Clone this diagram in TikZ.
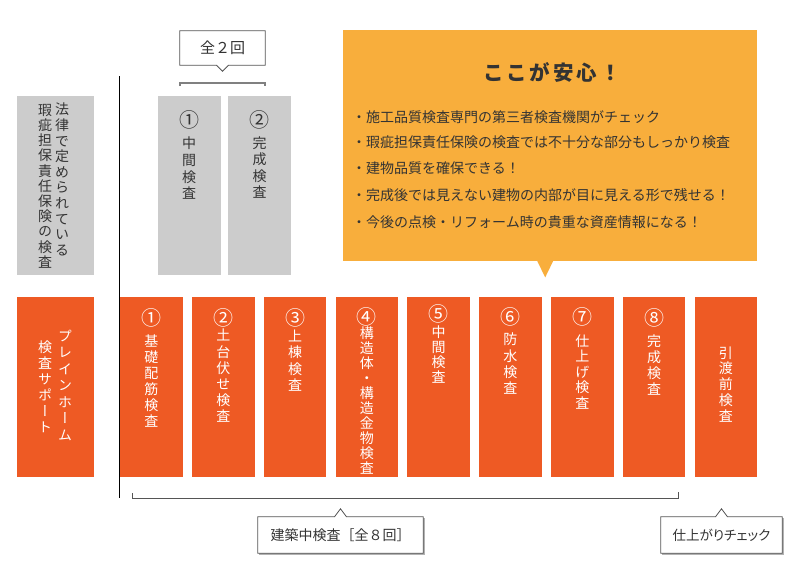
\documentclass[tikz,border=0pt]{standalone}
\usepackage{fontspec}
\setmainfont{Noto Sans CJK JP}
\newfontfamily\vfont[RawFeature=+vert]{Noto Sans CJK JP}
\newfontfamily\pfont[RawFeature=+palt]{Noto Sans CJK JP}
\usetikzlibrary{calc}
\definecolor{orng}{HTML}{EE5A24}
\definecolor{yorng}{HTML}{F8AE3C}
\definecolor{gbox}{HTML}{CCCCCC}
\definecolor{dtext}{HTML}{333333}
\definecolor{cline}{HTML}{555555}
\definecolor{bline}{HTML}{808080}
\newcommand\lsp{\hspace{3pt}}
\newcommand\cnum[1]{{\fontsize{20}{16}\selectfont #1}}
\begin{document}
\begin{tikzpicture}[x=1pt,y=-1pt,
  obox/.style={fill=orng, draw=none, minimum width=62.5pt, minimum height=180pt, inner sep=0pt, anchor=north west},
  gboxs/.style={fill=gbox, draw=none, minimum width=62.5pt, minimum height=179pt, inner sep=0pt, anchor=north west},
  vtxt/.style={inner sep=0pt, align=center, anchor=north, font=\vfont\fontsize{14}{#1}\selectfont},
  wtxt/.style={vtxt=#1, text=white},
  dtxt/.style={vtxt=#1, text=dtext},
  callbox/.style={draw=none, inner sep=0pt, text=dtext},
  bullet/.style={anchor=west, inner sep=0pt, text=dtext, font=\fontsize{14}{14}\selectfont},
  shadowc/.style={fill=black!30, draw=none},
  outline/.style={draw=cline, line width=0.8pt, fill=white}
]
\useasboundingbox (0,0) rectangle (800,584);
\fill[white] (0,0) rectangle (800,584);

% ---------- gray boxes ----------
\node[gboxs, minimum width=77pt] (gL) at (17,96) {};
\node[dtxt=15.6] (gLa) at (62,103) {法\\律\\で\\定\\め\\ら\\れ\\て\\い\\る};
\node[dtxt=15.2] (gLb) at (45,104) {瑕\\疵\\担\\保\\責\\任\\保\\険\\の\\検\\査};
\node[gboxs] (g1) at (158,96) {};
\node[dtxt=16.7] (g1t) at (189,110) {\cnum{①}\\[5pt]中\\間\\検\\査};
\node[gboxs, minimum width=63pt] (g2) at (228,96) {};
\node[dtxt=16.5] (g2t) at (259.5,110) {\cnum{②}\\[4.5pt]完\\成\\検\\査};

% ---------- top callout ----------
\node[callbox, minimum width=85pt, minimum height=34pt, font=\fontsize{15}{15}\selectfont] (c2) at (222.5,48) {};
\path[outline] (c2.north west) -- (c2.north east) -- (c2.south east) -- ($(c2.south)+(6,0)$) -- ($(c2.south)+(0,6)$) -- ($(c2.south)+(-6,0)$) -- (c2.south west) -- cycle;
\node[callbox, font=\fontsize{15}{15}\selectfont] (c2t) at (c2.center) {全２回};
\coordinate (tb1) at (180,86);
\coordinate (tb2) at (265,86);
\draw[bline, line width=1.6pt] (tb1) -- ++(0,-3) -| (tb2);

% ---------- vertical line ----------
\coordinate (vtop) at (119.5,76);
\coordinate (vbot) at (119.5,498);
\draw[black, line width=1.2pt] (vtop) -- (vbot);

% ---------- orange callout ----------
\node[fill=yorng, minimum width=414pt, minimum height=231pt, anchor=north west, inner sep=0pt] (ans) at (343,30) {};
\fill[yorng] ($(ans.south)+(-13,-0.5)$) -- ($(ans.south)+(-5,16)$) -- ($(ans.south)+(3,-0.5)$) -- cycle;
\node[inner sep=0pt, text=dtext, font=\bfseries\fontsize{20.5}{20.5}\selectfont] (title) at (552,72) {こ\lsp こ\lsp が\lsp 安\lsp 心\lsp ！};
\node[bullet] (l1) at (352,117) {・施工品質検査専門の第三者検査機関がチェック};
\node[bullet] (l2) at (352,142) {・瑕疵担保責任保険の検査では不十分な部分もしっかり検査};
\node[bullet] (l3) at (352,168) {・建物品質を確保できる！};
\node[bullet] (l4) at (352,195) {・完成後では見えない建物の内部が目に見える形で残せる！};
\node[bullet] (l5) at (352,222) {・今後の点検・リフォーム時の貴重な資産情報になる！};

% ---------- orange boxes ----------
\node[obox, minimum width=77pt] (b0) at (17,297) {};
\node[wtxt=16.5, anchor=center] (b0a) at (65,385) {プ\\レ\\イ\\ン\\ホ\\ー\\ム};
\node[wtxt=16, anchor=center] (b0b) at (45,387) {検\\査\\サ\\ポ\\ー\\ト};

\node[obox] (b1) at (120,297) {};
\node[wtxt=16] at ($(b1.north)+(0,11)$) {\cnum{①}\\[5pt]基\\礎\\配\\筋\\検\\査};
\node[obox] (b2) at (191.8,297) {};
\node[wtxt=16.2] at ($(b2.north)+(0,11)$) {\cnum{②}\\[-0.5pt]土\\台\\伏\\せ\\検\\査};
\node[obox] (b3) at (263.6,297) {};
\node[wtxt=16.5] at ($(b3.north)+(0,11)$) {\cnum{③}\\[-0.5pt]上\\棟\\検\\査};
\node[obox] (b4) at (335.4,297) {};
\node[wtxt=15] at ($(b4.north)+(0,10)$) {\cnum{④}\\[-0.5pt]構\\造\\体\\・\\構\\造\\金\\物\\検\\査};
\node[obox] (b5) at (407.2,297) {};
\node[wtxt=15] at ($(b5.north)+(0,7.5)$) {\cnum{⑤}\\[0.5pt]中\\間\\検\\査};
\node[obox] (b6) at (479,297) {};
\node[wtxt=16.3] at ($(b6.north)+(0,10.5)$) {\cnum{⑥}\\[4pt]防\\水\\検\\査};
\node[obox] (b7) at (550.8,297) {};
\node[wtxt=15.5] at ($(b7.north)+(0,10.5)$) {\cnum{⑦}\\[6pt]仕\\上\\げ\\検\\査};
\node[obox] (b8) at (622.6,297) {};
\node[wtxt=16] at ($(b8.north)+(0,11)$) {\cnum{⑧}\\[5pt]完\\成\\検\\査};
\node[obox] (b9) at (694.4,297) {};
\node[wtxt=15.75, anchor=center] at ($(b9.center)+(0,-3)$) {引\\渡\\前\\検\\査};

% ---------- bottom bracket ----------
\coordinate (bb1) at (132,493);
\coordinate (bb2) at (678,492);
\draw[cline, line width=1pt] (bb1) |- (678,498) -- (bb2);

% ---------- bottom callouts ----------
\node[callbox, minimum width=165pt, minimum height=36pt] (c8) at (340.5,535) {};
\path[shadowc] ($(c8.south west)+(1.3,1.3)$) rectangle ($(c8.north east)+(1.3,1.3)$);
\path[outline] (c8.south west) -- (c8.south east) -- (c8.north east) -- ($(c8.north)+(6,0)$) -- ($(c8.north)+(0,-8)$) -- ($(c8.north)+(-6,0)$) -- (c8.north west) -- cycle;
\node[callbox, font=\fontsize{14}{14}\selectfont] (c8t) at (c8.center) {建築中検査［全８回］};

\node[callbox, minimum width=121pt, minimum height=36pt] (c9) at (721.5,535) {};
\path[shadowc] ($(c9.south west)+(1.3,1.3)$) rectangle ($(c9.north east)+(1.3,1.3)$);
\path[outline] (c9.south west) -- (c9.south east) -- (c9.north east) -- ($(c9.north)+(6,0)$) -- ($(c9.north)+(0,-8)$) -- ($(c9.north)+(-6,0)$) -- (c9.north west) -- cycle;
\node[callbox, font=\pfont\fontsize{13.5}{13.5}\selectfont] (c9t) at (c9.center) {仕上がりチェック};
\end{tikzpicture}
\end{document}
